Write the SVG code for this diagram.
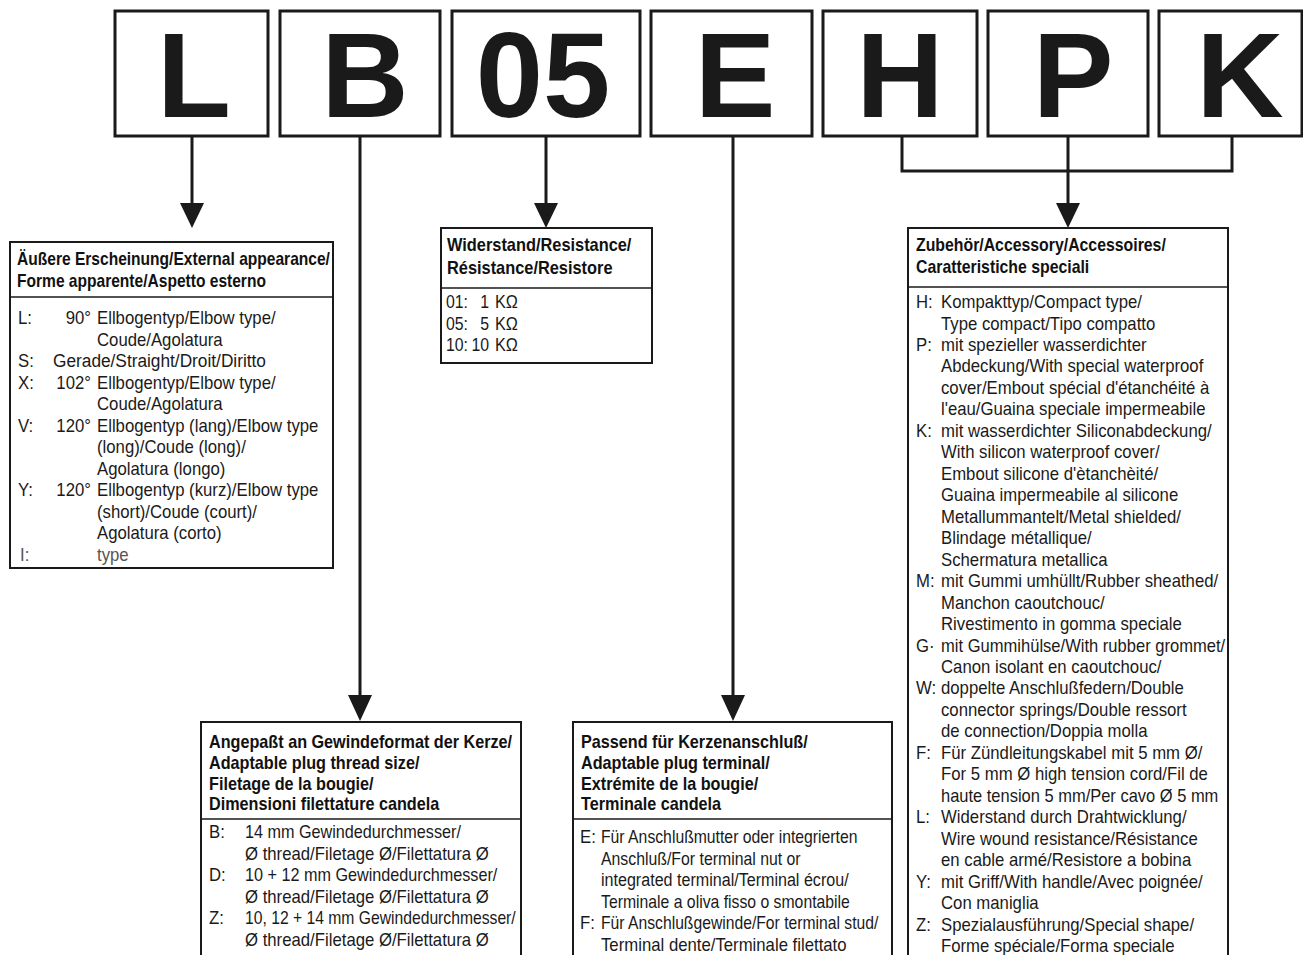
<svg xmlns="http://www.w3.org/2000/svg" width="1303" height="955" viewBox="0 0 1303 955">
<defs>
<style>
.bx{fill:#fff;stroke:#1a1a1a;stroke-width:3}
.nb{fill:#fff;stroke:#1a1a1a;stroke-width:2}
.dv{stroke:#1a1a1a;stroke-width:1.6}
.ln{stroke:#1a1a1a;stroke-width:3;fill:none}
.ah{fill:#1a1a1a}
.big{font-family:"Liberation Sans",Arial,sans-serif;font-size:121px;font-weight:bold;text-anchor:middle;fill:#1a1a1a}
.t{font-family:"Liberation Sans",Arial,sans-serif;font-size:18px;fill:#1a1a1a}
.h{font-family:"Liberation Sans",Arial,sans-serif;font-size:18px;font-weight:bold;fill:#111}
.e{text-anchor:end}
.g{fill:#555}
</style>
</defs>
<rect width="1303" height="955" fill="#fff"/>

<g id="code">
<g id="code-L"><rect class="bx" x="115" y="11" width="153" height="125"/><text class="big" x="194" y="117">L</text></g>
<g id="code-B"><rect class="bx" x="280" y="11" width="160" height="125"/><text class="big" x="365" y="117">B</text></g>
<g id="code-05"><rect class="bx" x="452" y="11" width="188" height="125"/><text class="big" x="543" y="117">05</text></g>
<g id="code-E"><rect class="bx" x="651" y="11" width="161" height="125"/><text class="big" x="735" y="117">E</text></g>
<g id="code-H"><rect class="bx" x="823" y="11" width="154" height="125"/><text class="big" x="900" y="117">H</text></g>
<g id="code-P"><rect class="bx" x="988" y="11" width="160" height="125"/><text class="big" x="1073" y="117">P</text></g>
<g id="code-K"><rect class="bx" x="1159" y="11" width="143" height="125"/><text class="big" x="1240" y="117">K</text></g>
</g>

<g id="connectors">
<line class="ln" x1="192" y1="136" x2="192" y2="206"/>
<polygon class="ah" points="180,203 204,203 192,228"/>
<line class="ln" x1="360" y1="136" x2="360" y2="698"/>
<polygon class="ah" points="348,695 372,695 360,721"/>
<line class="ln" x1="546" y1="136" x2="546" y2="206"/>
<polygon class="ah" points="534,203 558,203 546,228"/>
<line class="ln" x1="733" y1="136" x2="733" y2="698"/>
<polygon class="ah" points="721,695 745,695 733,721"/>
<polyline class="ln" points="902,136 902,171 1232,171 1232,136"/>
<line class="ln" x1="1068" y1="136" x2="1068" y2="206"/>
<polygon class="ah" points="1056,203 1080,203 1068,228"/>
</g>

<g id="box-appearance">
<rect class="nb" x="10" y="242" width="323" height="326"/>
<line class="dv" x1="10" y1="297" x2="333" y2="297"/>
<text class="h" transform="matrix(.865 0 0 1 17 264.5)">Äußere Erscheinung/External appearance/</text>
<text class="h" transform="matrix(.865 0 0 1 17 286.5)">Forme apparente/Aspetto esterno</text>
<text class="t" transform="matrix(.93 0 0 1 18 324)">L:</text>
<text class="t e" transform="matrix(.93 0 0 1 91 324)">90°</text>
<text class="t" transform="matrix(.93 0 0 1 97 324)">Ellbogentyp/Elbow type/</text>
<text class="t" transform="matrix(.93 0 0 1 97 345.5)">Coude/Agolatura</text>
<text class="t" transform="matrix(.93 0 0 1 18 367)">S:</text>
<text class="t" transform="matrix(.96 0 0 1 53 367)">Gerade/Straight/Droit/Diritto</text>
<text class="t" transform="matrix(.93 0 0 1 18 388.5)">X:</text>
<text class="t e" transform="matrix(.93 0 0 1 91 388.5)">102°</text>
<text class="t" transform="matrix(.93 0 0 1 97 388.5)">Ellbogentyp/Elbow type/</text>
<text class="t" transform="matrix(.93 0 0 1 97 410)">Coude/Agolatura</text>
<text class="t" transform="matrix(.93 0 0 1 18 431.5)">V:</text>
<text class="t e" transform="matrix(.93 0 0 1 91 431.5)">120°</text>
<text class="t" transform="matrix(.93 0 0 1 97 431.5)">Ellbogentyp (lang)/Elbow type</text>
<text class="t" transform="matrix(.93 0 0 1 97 453)">(long)/Coude (long)/</text>
<text class="t" transform="matrix(.93 0 0 1 97 474.5)">Agolatura (longo)</text>
<text class="t" transform="matrix(.93 0 0 1 18 496)">Y:</text>
<text class="t e" transform="matrix(.93 0 0 1 91 496)">120°</text>
<text class="t" transform="matrix(.93 0 0 1 97 496)">Ellbogentyp (kurz)/Elbow type</text>
<text class="t" transform="matrix(.93 0 0 1 97 517.5)">(short)/Coude (court)/</text>
<text class="t" transform="matrix(.93 0 0 1 97 539)">Agolatura (corto)</text>
<text class="t g" transform="matrix(.93 0 0 1 20 560.5)">I:</text>
<text class="t g" transform="matrix(.93 0 0 1 97 560.5)">type</text>
</g>

<g id="box-resistance">
<rect class="nb" x="441" y="228" width="211" height="135"/>
<line class="dv" x1="441" y1="288" x2="652" y2="288"/>
<text class="h" transform="matrix(.91 0 0 1 447 250.5)">Widerstand/Resistance/</text>
<text class="h" transform="matrix(.91 0 0 1 447 273.5)">Résistance/Resistore</text>
<text class="t" transform="matrix(.88 0 0 1 446 308)">01:</text>
<text class="t e" transform="matrix(.88 0 0 1 489 308)">1</text>
<text class="t" transform="matrix(.9 0 0 1 495 308)">KΩ</text>
<text class="t" transform="matrix(.88 0 0 1 446 329.5)">05:</text>
<text class="t e" transform="matrix(.88 0 0 1 489 329.5)">5</text>
<text class="t" transform="matrix(.9 0 0 1 495 329.5)">KΩ</text>
<text class="t" transform="matrix(.88 0 0 1 446 351)">10:</text>
<text class="t e" transform="matrix(.88 0 0 1 489 351)">10</text>
<text class="t" transform="matrix(.9 0 0 1 495 351)">KΩ</text>
</g>

<g id="box-accessory">
<rect class="nb" x="908" y="228" width="320" height="740"/>
<line class="dv" x1="908" y1="287" x2="1228" y2="287"/>
<text class="h" transform="matrix(.88 0 0 1 916 250.5)">Zubehör/Accessory/Accessoires/</text>
<text class="h" transform="matrix(.88 0 0 1 916 273)">Caratteristiche speciali</text>
<text class="t" transform="matrix(.93 0 0 1 916 308)">H:</text>
<text class="t" transform="matrix(.93 0 0 1 941 308)">Kompakttyp/Compact type/</text>
<text class="t" transform="matrix(.93 0 0 1 941 329.5)">Type compact/Tipo compatto</text>
<text class="t" transform="matrix(.93 0 0 1 916 351)">P:</text>
<text class="t" transform="matrix(.93 0 0 1 941 351)">mit spezieller wasserdichter</text>
<text class="t" transform="matrix(.93 0 0 1 941 372.4)">Abdeckung/With special waterproof</text>
<text class="t" transform="matrix(.93 0 0 1 941 393.9)">cover/Embout spécial d'étanchéité à</text>
<text class="t" transform="matrix(.93 0 0 1 941 415.4)">l'eau/Guaina speciale impermeabile</text>
<text class="t" transform="matrix(.93 0 0 1 916 436.8)">K:</text>
<text class="t" transform="matrix(.93 0 0 1 941 436.8)">mit wasserdichter Siliconabdeckung/</text>
<text class="t" transform="matrix(.93 0 0 1 941 458.3)">With silicon waterproof cover/</text>
<text class="t" transform="matrix(.93 0 0 1 941 479.8)">Embout silicone d'ètanchèité/</text>
<text class="t" transform="matrix(.93 0 0 1 941 501.2)">Guaina impermeabile al silicone</text>
<text class="t" transform="matrix(.93 0 0 1 941 522.7)">Metallummantelt/Metal shielded/</text>
<text class="t" transform="matrix(.93 0 0 1 941 544.2)">Blindage métallique/</text>
<text class="t" transform="matrix(.93 0 0 1 941 565.6)">Schermatura metallica</text>
<text class="t" transform="matrix(.93 0 0 1 916 587.1)">M:</text>
<text class="t" transform="matrix(.93 0 0 1 941 587.1)">mit Gummi umhüllt/Rubber sheathed/</text>
<text class="t" transform="matrix(.93 0 0 1 941 608.6)">Manchon caoutchouc/</text>
<text class="t" transform="matrix(.93 0 0 1 941 630)">Rivestimento in gomma speciale</text>
<text class="t" transform="matrix(.93 0 0 1 916 651.5)">G·</text>
<text class="t" transform="matrix(.92 0 0 1 941 651.5)">mit Gummihülse/With rubber grommet/</text>
<text class="t" transform="matrix(.93 0 0 1 941 673)">Canon isolant en caoutchouc/</text>
<text class="t" transform="matrix(.93 0 0 1 916 694.4)">W:</text>
<text class="t" transform="matrix(.93 0 0 1 941 694.4)">doppelte Anschlußfedern/Double</text>
<text class="t" transform="matrix(.93 0 0 1 941 715.9)">connector springs/Double ressort</text>
<text class="t" transform="matrix(.93 0 0 1 941 737.4)">de connection/Doppia molla</text>
<text class="t" transform="matrix(.93 0 0 1 916 758.8)">F:</text>
<text class="t" transform="matrix(.93 0 0 1 941 758.8)">Für Zündleitungskabel mit 5 mm Ø/</text>
<text class="t" transform="matrix(.93 0 0 1 941 780.3)">For 5 mm Ø high tension cord/Fil de</text>
<text class="t" transform="matrix(.915 0 0 1 941 801.8)">haute tension 5 mm/Per cavo Ø 5 mm</text>
<text class="t" transform="matrix(.93 0 0 1 916 823.2)">L:</text>
<text class="t" transform="matrix(.93 0 0 1 941 823.2)">Widerstand durch Drahtwicklung/</text>
<text class="t" transform="matrix(.93 0 0 1 941 844.7)">Wire wound resistance/Résistance</text>
<text class="t" transform="matrix(.93 0 0 1 941 866.2)">en cable armé/Resistore a bobina</text>
<text class="t" transform="matrix(.93 0 0 1 916 887.6)">Y:</text>
<text class="t" transform="matrix(.93 0 0 1 941 887.6)">mit Griff/With handle/Avec poignée/</text>
<text class="t" transform="matrix(.93 0 0 1 941 909.1)">Con maniglia</text>
<text class="t" transform="matrix(.93 0 0 1 916 930.6)">Z:</text>
<text class="t" transform="matrix(.93 0 0 1 941 930.6)">Spezialausführung/Special shape/</text>
<text class="t" transform="matrix(.93 0 0 1 941 952)">Forme spéciale/Forma speciale</text>
</g>

<g id="box-thread">
<rect class="nb" x="201" y="722" width="320" height="250"/>
<line class="dv" x1="201" y1="819" x2="521" y2="819"/>
<text class="h" transform="matrix(.9 0 0 1 209 747.5)">Angepaßt an Gewindeformat der Kerze/</text>
<text class="h" transform="matrix(.9 0 0 1 209 768.5)">Adaptable plug thread size/</text>
<text class="h" transform="matrix(.9 0 0 1 209 789.5)">Filetage de la bougie/</text>
<text class="h" transform="matrix(.9 0 0 1 209 810)">Dimensioni filettature candela</text>
<text class="t" transform="matrix(.93 0 0 1 209 838)">B:</text>
<text class="t" transform="matrix(.9 0 0 1 245 838)">14 mm Gewindedurchmesser/</text>
<text class="t" transform="matrix(.93 0 0 1 245 859.5)">Ø thread/Filetage Ø/Filettatura Ø</text>
<text class="t" transform="matrix(.93 0 0 1 209 881)">D:</text>
<text class="t" transform="matrix(.9 0 0 1 245 881)">10 + 12 mm Gewindedurchmesser/</text>
<text class="t" transform="matrix(.93 0 0 1 245 902.5)">Ø thread/Filetage Ø/Filettatura Ø</text>
<text class="t" transform="matrix(.93 0 0 1 209 924)">Z:</text>
<text class="t" transform="matrix(.872 0 0 1 245 924)">10, 12 + 14 mm Gewindedurchmesser/</text>
<text class="t" transform="matrix(.93 0 0 1 245 945.5)">Ø thread/Filetage Ø/Filettatura Ø</text>
</g>

<g id="box-terminal">
<rect class="nb" x="573" y="722" width="319" height="250"/>
<line class="dv" x1="573" y1="819" x2="892" y2="819"/>
<text class="h" transform="matrix(.9 0 0 1 581 747.5)">Passend für Kerzenanschluß/</text>
<text class="h" transform="matrix(.9 0 0 1 581 768.5)">Adaptable plug terminal/</text>
<text class="h" transform="matrix(.9 0 0 1 581 789.5)">Extrémite de la bougie/</text>
<text class="h" transform="matrix(.9 0 0 1 581 810)">Terminale candela</text>
<text class="t" transform="matrix(.93 0 0 1 580 843)">E:</text>
<text class="t" transform="matrix(.875 0 0 1 601 843)">Für Anschlußmutter oder integrierten</text>
<text class="t" transform="matrix(.88 0 0 1 601 864.5)">Anschluß/For terminal nut or</text>
<text class="t" transform="matrix(.894 0 0 1 601 886)">integrated terminal/Terminal écrou/</text>
<text class="t" transform="matrix(.877 0 0 1 601 907.5)">Terminale a oliva fisso o smontabile</text>
<text class="t" transform="matrix(.93 0 0 1 580 929)">F:</text>
<text class="t" transform="matrix(.873 0 0 1 601 929)">Für Anschlußgewinde/For terminal stud/</text>
<text class="t" transform="matrix(.93 0 0 1 601 950.5)">Terminal dente/Terminale filettato</text>
</g>
</svg>
